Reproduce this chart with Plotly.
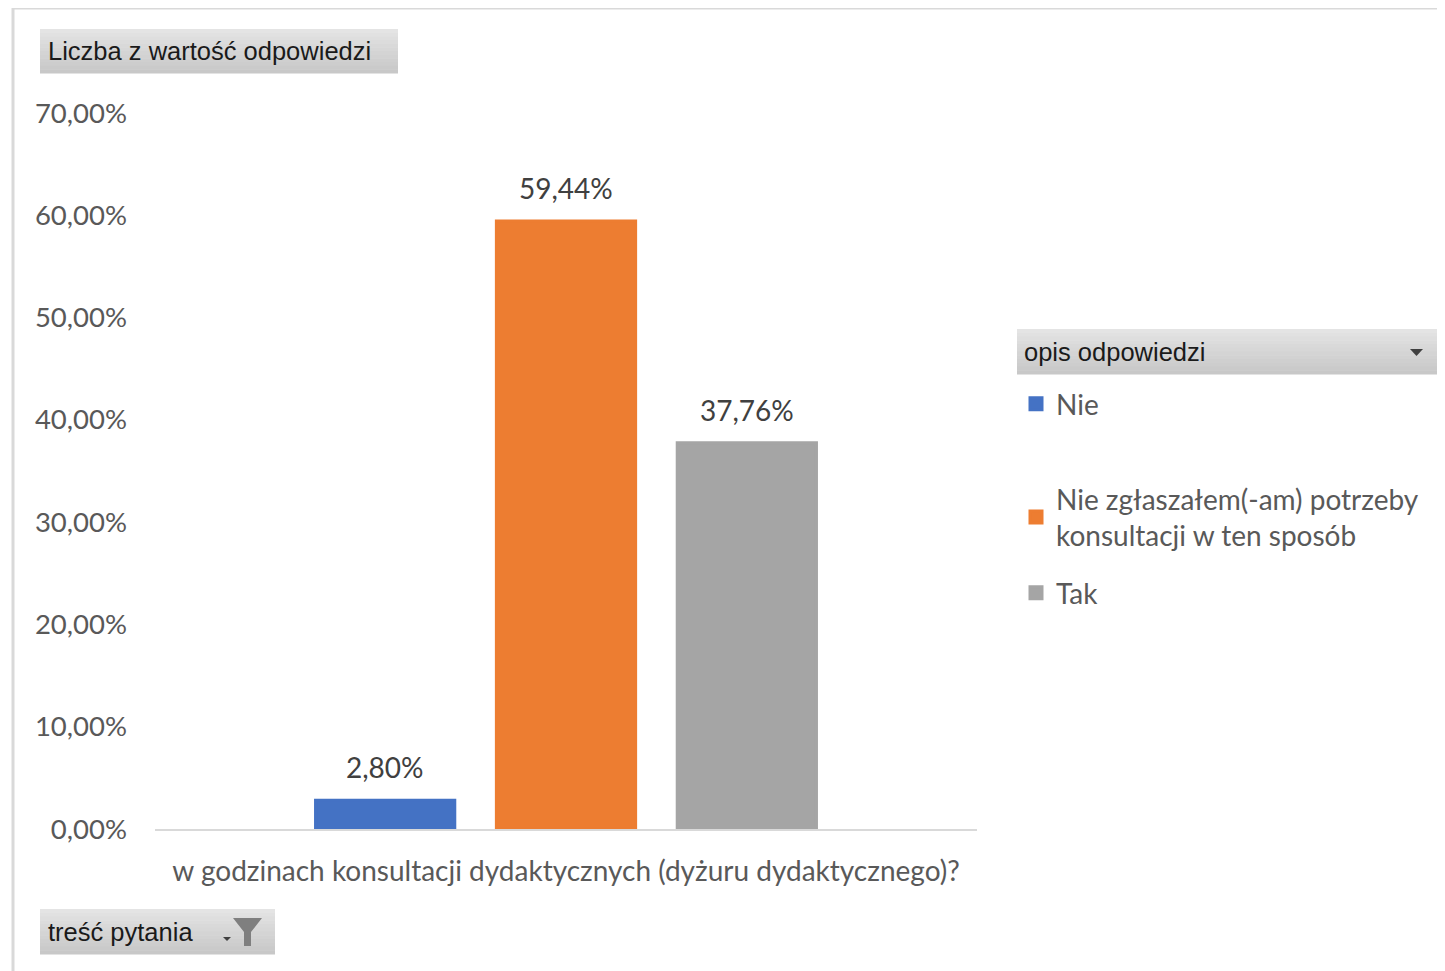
import plotly.graph_objects as go

question = ["w godzinach konsultacji dydaktycznych (dyżuru dydaktycznego)?"]
answers = ["Nie", "Nie zgłaszałem(-am) potrzeby<br>konsultacji w ten sposób", "Tak"]
shares = [0.0280, 0.5944, 0.3776]
colors = ["#4472c4", "#ed7d31", "#a5a5a5"]
y_ticks = [0, 0.1, 0.2, 0.3, 0.4, 0.5, 0.6, 0.7]

# the page body has an 8px margin, so the figure is shifted by that much
OFF = 8
W, H = 1445 - OFF, 971 - OFF
PX0, PX1, PY0, PY1 = 155, 977, 113, 829  # plot area in screenshot pixels
BARGAP = 0.34


def px(x):
    return (x - PX0) / (PX1 - PX0)


def py(y):
    return (PY1 - y) / (PY1 - PY0)


FONT = "Lato, 'Open Sans', sans-serif"
BOX_FONT = "'Liberation Sans', Arial, sans-serif"

fig = go.Figure()
legend_pos = [("legend", 404), ("legend2", 517), ("legend3", 593)]
for name, val, col, (lg, _) in zip(answers, shares, colors, legend_pos):
    fig.add_trace(go.Bar(
        x=question, y=[val], name=name, marker_color=col,
        marker_line=dict(color=col, width=3),
        cliponaxis=False, legend=lg,
    ))

# data labels sit a bit higher above the bars than plotly's "outside" text
slot = (PX1 - PX0) * (1 - BARGAP) / len(shares)
annotations = []
for i, val in enumerate(shares):
    annotations.append(dict(
        x=question[0], y=val, xref="x", yref="y",
        text=f"{val * 100:.2f}%".replace(".", ","),
        xshift=(i - (len(shares) - 1) / 2) * slot, yshift=33,
        xanchor="center", yanchor="middle", showarrow=False,
        font=dict(family=FONT, size=28, color="#404040"),
    ))

shapes = []
# outer border
shapes.append(dict(type="rect", xref="paper", yref="paper",
                   x0=px(13), x1=px(1460), y0=py(8), y1=py(990),
                   line=dict(color="#d9d9d9", width=3), layer="below"))


def grad_box(x0, y0, x1, y1, top="#e4e4e4", bot="#c8c8c8", n=12):
    t = [int(top[i:i + 2], 16) for i in (1, 3, 5)]
    b = [int(bot[i:i + 2], 16) for i in (1, 3, 5)]
    h = (y1 - y0) / n
    for i in range(n):
        f = i / (n - 1)
        c = "#%02x%02x%02x" % tuple(int(t[k] + (b[k] - t[k]) * f) for k in range(3))
        shapes.append(dict(type="rect", xref="paper", yref="paper",
                           x0=px(x0), x1=px(x1), y0=py(y0 + h * (i + 1) + 0.5), y1=py(y0 + h * i),
                           line=dict(width=0), fillcolor=c, layer="below"))


grad_box(40, 29, 398, 73)
grad_box(1017, 329, 1438, 374)
grad_box(40, 909, 275, 954)


def path(pts):
    return "M " + " L ".join(f"{px(a)},{py(b)}" for a, b in pts) + " Z"


# dropdown arrow in legend header
shapes.append(dict(type="path", xref="paper", yref="paper",
                   path=path([(1410, 349), (1423, 349), (1416.5, 356)]),
                   fillcolor="#404040", line=dict(width=0)))
# funnel icon
shapes.append(dict(type="path", xref="paper", yref="paper",
                   path=path([(233, 918), (262, 918), (251, 932), (251, 946), (244, 946), (244, 932)]),
                   fillcolor="#7f7f7f", line=dict(width=0)))
shapes.append(dict(type="path", xref="paper", yref="paper",
                   path=path([(223, 937), (231, 937), (227, 941)]),
                   fillcolor="#404040", line=dict(width=0)))

boxes = [
    dict(text="Liczba z wartość odpowiedzi", x=px(46), y=py(51), xanchor="left", yanchor="middle"),
    dict(text="opis odpowiedzi", x=px(1022), y=py(352), xanchor="left", yanchor="middle"),
    dict(text="treść pytania", x=px(46), y=py(932), xanchor="left", yanchor="middle"),
]
for a in boxes:
    a.update(xref="paper", yref="paper", showarrow=False,
             font=dict(family=BOX_FONT, size=25.5, color="#1a1a1a"))
annotations += boxes

legend_common = dict(xref="paper", yref="paper", yanchor="middle", xanchor="left",
                     bgcolor="rgba(0,0,0,0)", borderwidth=0,
                     font=dict(family=FONT, size=28, color="#595959"))
layout_legends = {}
for lg, ypx in legend_pos:
    layout_legends[lg] = dict(x=px(1016), y=py(ypx), **legend_common)

fig.update_layout(
    width=W, height=H,
    margin=dict(l=PX0 - OFF, r=1445 - PX1, t=PY0 - OFF, b=971 - PY1),
    paper_bgcolor="white", plot_bgcolor="white",
    separators=", ",
    barmode="group", bargap=BARGAP, bargroupgap=0.23,
    shapes=shapes, annotations=annotations,
    showlegend=True,
    font=dict(family=FONT, size=28, color="#595959"),
    **layout_legends,
)
fig.update_yaxes(range=[0, 0.7], tickvals=y_ticks, tickformat=".2%", showgrid=False,
                 zeroline=False, showline=False, ticks="", ticklabelstandoff=27,
                 tickfont=dict(size=27.5, color="#595959"))
fig.update_xaxes(showline=True, linecolor="#d9d9d9", linewidth=2, ticks="",
                 tickfont=dict(size=28, color="#595959"), ticklabelstandoff=16)

fig.write_html("out.html")
